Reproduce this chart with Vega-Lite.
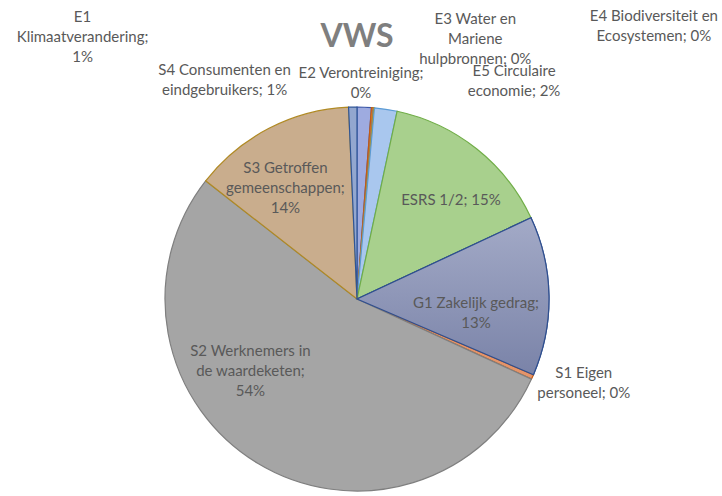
{
  "$schema": "https://vega.github.io/schema/vega-lite/v6.json",
  "width": 384,
  "height": 384,
  "autosize": {"type": "none"},
  "padding": {"left": 165, "top": 107, "right": 173, "bottom": 5},
  "background": "white",
  "title": {"text": "VWS", "anchor": "middle", "frame": "group", "offset": -45, "font": "Lato", "fontSize": 32, "fontWeight": "bold", "color": "#7f7f7f"},
  "config": {
    "view": {"stroke": null},
    "text": {"font": "Lato", "fontSize": 15, "fill": "#595959", "lineHeight": 20, "align": "center", "baseline": "middle", "lineBreak": "\n"}
  },
  "data": {"values": [
    {"category": "E1 Klimaatverandering", "value": 1.2, "label": "E1\nKlimaatverandering;\n1%"},
    {"category": "E2 Verontreiniging", "value": 0.15, "label": "E2 Verontreiniging;\n0%"},
    {"category": "E3 Water en Mariene hulpbronnen", "value": 0.05, "label": "E3 Water en\nMariene\nhulpbronnen; 0%"},
    {"category": "E4 Biodiversiteit en Ecosystemen", "value": 0.05, "label": "E4 Biodiversiteit en\nEcosystemen; 0%"},
    {"category": "E5 Circulaire economie", "value": 1.9, "label": "E5 Circulaire\neconomie; 2%"},
    {"category": "ESRS 1/2", "value": 14.7, "label": "ESRS 1/2; 15%"},
    {"category": "G1 Zakelijk gedrag", "value": 13.4, "label": "G1 Zakelijk gedrag;\n13%"},
    {"category": "S1 Eigen personeel", "value": 0.4, "label": "S1 Eigen\npersoneel; 0%"},
    {"category": "S2 Werknemers in de waardeketen", "value": 53.7, "label": "S2 Werknemers in\nde waardeketen;\n54%"},
    {"category": "S3 Getroffen gemeenschappen", "value": 13.75, "label": "S3 Getroffen\ngemeenschappen;\n14%"},
    {"category": "S4 Consumenten en eindgebruikers", "value": 0.7, "label": "S4 Consumenten en\neindgebruikers; 1%"}
  ]},
  "transform": [
    {"stack": "value", "groupby": [], "as": ["t0", "t1"], "sort": [{"field": "category", "order": "ascending"}]},
    {"calculate": "(datum.t0 + datum.t1) / 2", "as": "mid"}
  ],
  "layer": [
    {
      "mark": {"type": "arc", "strokeWidth": 1.2},
      "encoding": {
        "theta": {"field": "t0", "type": "quantitative", "stack": null, "scale": {"domain": [0, 100]}},
        "theta2": {"field": "t1"},
        "fill": {"field": "category", "type": "nominal", "legend": null, "scale": {
          "domain": ["E1 Klimaatverandering", "E2 Verontreiniging", "E3 Water en Mariene hulpbronnen", "E4 Biodiversiteit en Ecosystemen", "E5 Circulaire economie", "ESRS 1/2", "G1 Zakelijk gedrag", "S1 Eigen personeel", "S2 Werknemers in de waardeketen", "S3 Getroffen gemeenschappen", "S4 Consumenten en eindgebruikers"],
          "range": ["#9eabe0", "#ed7d31", "#a5a5a5", "#ffc000", "#a9c7ee", "#a8d08d", "#8f97b9", "#e4946a", "#a5a5a5", "#c9ad8d", "#93a7cf"]}},
        "stroke": {"field": "category", "type": "nominal", "legend": null, "scale": {
          "domain": ["E1 Klimaatverandering", "E2 Verontreiniging", "E3 Water en Mariene hulpbronnen", "E4 Biodiversiteit en Ecosystemen", "E5 Circulaire economie", "ESRS 1/2", "G1 Zakelijk gedrag", "S1 Eigen personeel", "S2 Werknemers in de waardeketen", "S3 Getroffen gemeenschappen", "S4 Consumenten en eindgebruikers"],
          "range": ["#3c57a8", "#c55a11", "#7f7f7f", "#bf9000", "#5b9bd5", "#70ad47", "#2f4f8f", "#c55a11", "#7f7f7f", "#b08a24", "#2f5597"]}}
      }
    },
    {
      "transform": [{"filter": {"field": "category", "equal": "G1 Zakelijk gedrag"}}],
      "mark": {"type": "arc", "strokeWidth": 1.2, "stroke": "#2f4f8f", "fill": {"gradient": "linear", "x1": 0, "y1": 0, "x2": 0, "y2": 1, "stops": [{"offset": 0, "color": "#a3aac7"}, {"offset": 1, "color": "#7a83a8"}]}},
      "encoding": {
        "theta": {"field": "t0", "type": "quantitative", "stack": null, "scale": {"domain": [0, 100]}},
        "theta2": {"field": "t1"}
      }
    },
    {
      "transform": [{"filter": {"field": "category", "equal": "ESRS 1/2"}}],
      "mark": {"type": "text", "radius": 130, "dx": 13, "dy": 3},
      "encoding": {"theta": {"field": "mid", "type": "quantitative", "stack": null, "scale": {"domain": [0, 100]}}, "text": {"field": "label"}}
    },
    {
      "transform": [{"filter": {"field": "category", "equal": "G1 Zakelijk gedrag"}}],
      "mark": {"type": "text", "radius": 130, "dx": -11, "dy": 6},
      "encoding": {"theta": {"field": "mid", "type": "quantitative", "stack": null, "scale": {"domain": [0, 100]}}, "text": {"field": "label"}}
    },
    {
      "transform": [{"filter": {"field": "category", "equal": "S2 Werknemers in de waardeketen"}}],
      "mark": {"type": "text", "radius": 130, "dx": -39, "dy": -59},
      "encoding": {"theta": {"field": "mid", "type": "quantitative", "stack": null, "scale": {"domain": [0, 100]}}, "text": {"field": "label"}}
    },
    {
      "transform": [{"filter": {"field": "category", "equal": "S3 Getroffen gemeenschappen"}}],
      "mark": {"type": "text", "radius": 130, "dx": -12, "dy": -15},
      "encoding": {"theta": {"field": "mid", "type": "quantitative", "stack": null, "scale": {"domain": [0, 100]}}, "text": {"field": "label"}}
    },
    {
      "transform": [{"filter": {"field": "category", "equal": "E1 Klimaatverandering"}}],
      "mark": {"type": "text", "radius": 200, "dx": -282, "dy": -82},
      "encoding": {"theta": {"field": "mid", "type": "quantitative", "stack": null, "scale": {"domain": [0, 100]}}, "text": {"field": "label"}}
    },
    {
      "transform": [{"filter": {"field": "category", "equal": "E2 Verontreiniging"}}],
      "mark": {"type": "text", "radius": 200, "dx": -12, "dy": -27},
      "encoding": {"theta": {"field": "mid", "type": "quantitative", "stack": null, "scale": {"domain": [0, 100]}}, "text": {"field": "label"}}
    },
    {
      "transform": [{"filter": {"field": "category", "equal": "E3 Water en Mariene hulpbronnen"}}],
      "mark": {"type": "text", "radius": 200, "dx": 101, "dy": -81},
      "encoding": {"theta": {"field": "mid", "type": "quantitative", "stack": null, "scale": {"domain": [0, 100]}}, "text": {"field": "label"}}
    },
    {
      "transform": [{"filter": {"field": "category", "equal": "E4 Biodiversiteit en Ecosystemen"}}],
      "mark": {"type": "text", "radius": 200, "dx": 279, "dy": -84},
      "encoding": {"theta": {"field": "mid", "type": "quantitative", "stack": null, "scale": {"domain": [0, 100]}}, "text": {"field": "label"}}
    },
    {
      "transform": [{"filter": {"field": "category", "equal": "E5 Circulaire economie"}}],
      "mark": {"type": "text", "radius": 200, "dx": 127, "dy": -30},
      "encoding": {"theta": {"field": "mid", "type": "quantitative", "stack": null, "scale": {"domain": [0, 100]}}, "text": {"field": "label"}}
    },
    {
      "transform": [{"filter": {"field": "category", "equal": "S1 Eigen personeel"}}],
      "mark": {"type": "text", "radius": 200, "dx": 44, "dy": -7},
      "encoding": {"theta": {"field": "mid", "type": "quantitative", "stack": null, "scale": {"domain": [0, 100]}}, "text": {"field": "label"}}
    },
    {
      "transform": [{"filter": {"field": "category", "equal": "S4 Consumenten en eindgebruikers"}}],
      "mark": {"type": "text", "radius": 200, "dx": -128, "dy": -29},
      "encoding": {"theta": {"field": "mid", "type": "quantitative", "stack": null, "scale": {"domain": [0, 100]}}, "text": {"field": "label"}}
    }
  ]
}
